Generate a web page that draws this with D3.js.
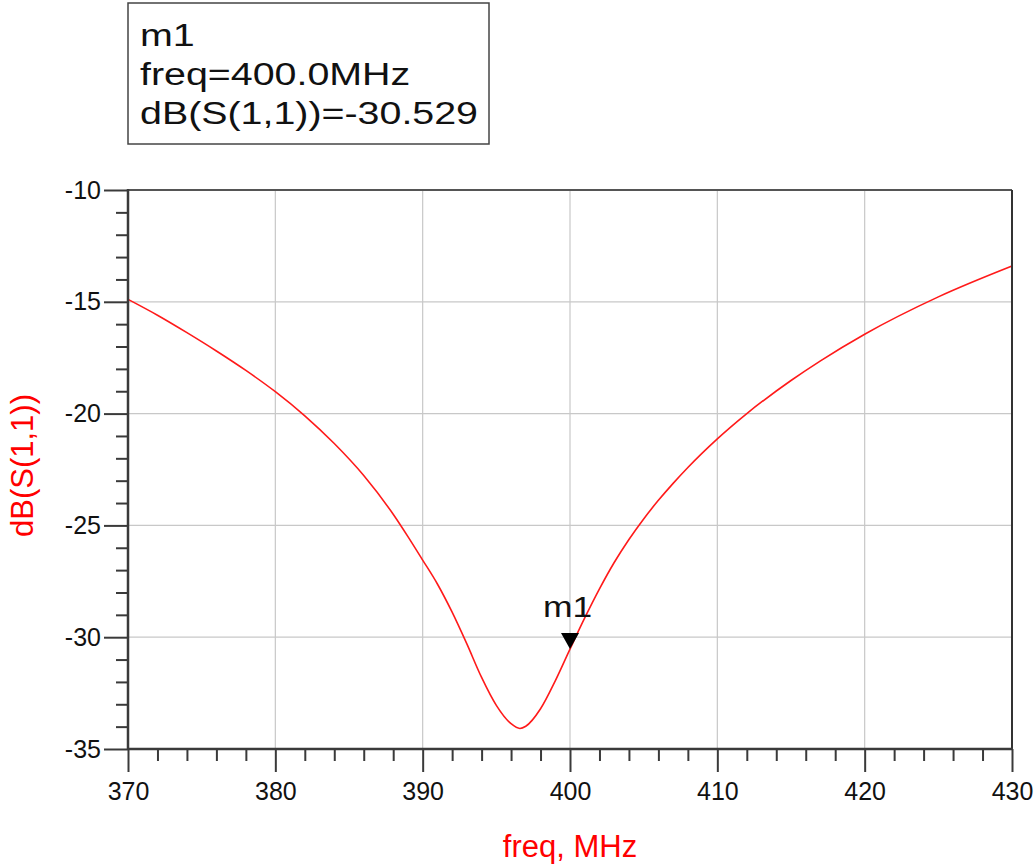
<!DOCTYPE html>
<html>
<head>
<meta charset="utf-8">
<script src="https://cdn.jsdelivr.net/npm/d3@7"></script>
<style>
  html, body { margin: 0; padding: 0; background: #fff; }
  svg { display: block; font-family: Arial, "Liberation Sans", sans-serif; }
</style>
</head>
<body>
<svg id="chart" width="1034" height="867"></svg>
<script>
// ---- data ----
const freqMHz = [370, 372, 374, 376, 378, 380, 382, 384, 386, 388, 389, 390, 391, 392, 393, 394, 395, 396, 396.6, 397, 398, 399, 400, 401, 402, 403, 404, 405, 406, 407, 408, 410, 412, 415, 417, 420, 425, 430];
const dbS11   = [-14.89, -15.6, -16.38, -17.2, -18.07, -19.02, -20.1, -21.34, -22.77, -24.5, -25.5, -26.55, -27.62, -28.88, -30.3, -31.8, -33.05, -33.87, -34.08, -33.98, -33.2, -31.95, -30.53, -29.14, -27.84, -26.66, -25.63, -24.71, -23.88, -23.12, -22.41, -21.13, -20.0, -18.52, -17.64, -16.45, -14.78, -13.4];
const xMajorTicks = [370, 380, 390, 400, 410, 420, 430];
const xMinorTicks = [372, 374, 376, 378, 382, 384, 386, 388, 392, 394, 396, 398, 402, 404, 406, 408, 412, 414, 416, 418, 422, 424, 426, 428];
const yMajorTicks = [-10, -15, -20, -25, -30, -35];
const yMinorTicks = [-11, -12, -13, -14, -16, -17, -18, -19, -21, -22, -23, -24, -26, -27, -28, -29, -31, -32, -33, -34];
const markerName = "m1";
const markerFreq = 400.0;
const markerValue = -30.529;
const markerLines = ["m1", "freq=400.0MHz", "dB(S(1,1))=-30.529"];
const xTitle = "freq, MHz";
const yTitle = "dB(S(1,1))";

// ---- layout ----
const L = 128, R = 1012, T = 190, B = 749;
const svg = d3.select("#chart");
const x = d3.scaleLinear().domain([370, 430]).range([L, R]);
const y = d3.scaleLinear().domain([-10, -35]).range([T, B]);
const axisColor = "#3a3a3a";

// grid
svg.append("g").selectAll("line").data(xMajorTicks.slice(1, -1)).join("line")
  .attr("x1", d => x(d)).attr("x2", d => x(d)).attr("y1", T).attr("y2", B)
  .attr("stroke", "#c8c8c8").attr("stroke-width", 1.2);
svg.append("g").selectAll("line").data(yMajorTicks.slice(1, -1)).join("line")
  .attr("y1", d => y(d)).attr("y2", d => y(d)).attr("x1", L).attr("x2", R)
  .attr("stroke", "#c8c8c8").attr("stroke-width", 1.2);

// curve
const line = d3.line().x((d, i) => x(freqMHz[i])).y(d => y(d)).curve(d3.curveMonotoneX);
svg.append("path").datum(dbS11).attr("d", line)
  .attr("fill", "none").attr("stroke", "#ff1a1a").attr("stroke-width", 1.6);

// frame top/right
svg.append("line").attr("x1", L).attr("x2", R).attr("y1", T).attr("y2", T).attr("stroke", "#555").attr("stroke-width", 2);
svg.append("line").attr("x1", R).attr("x2", R).attr("y1", T).attr("y2", B).attr("stroke", "#333").attr("stroke-width", 2);

function styleAxis(g) {
  g.select(".domain").remove();
  g.selectAll(".tick line").attr("stroke", axisColor).attr("stroke-width", 2);
  g.selectAll(".tick text").attr("fill", "#111").attr("font-size", 25);
}

// y axis
const gyMinor = svg.append("g").attr("transform", `translate(${L},0)`)
  .call(d3.axisLeft(y).tickValues(yMinorTicks).tickSize(12).tickFormat(""));
styleAxis(gyMinor);
const gy = svg.append("g").attr("transform", `translate(${L},0)`)
  .call(d3.axisLeft(y).tickValues(yMajorTicks).tickSize(24).tickPadding(3).tickFormat(d3.format("d")));
styleAxis(gy);
gy.selectAll(".tick text").text(d => String(d).replace("−", "-"));

// x axis
const gxMinor = svg.append("g").attr("transform", `translate(0,${B})`)
  .call(d3.axisBottom(x).tickValues(xMinorTicks).tickSize(12).tickFormat(""));
styleAxis(gxMinor);
const gx = svg.append("g").attr("transform", `translate(0,${B})`)
  .call(d3.axisBottom(x).tickValues(xMajorTicks).tickSize(23).tickPadding(10).tickFormat(d3.format("d")));
styleAxis(gx);

// spines left/bottom
svg.append("line").attr("x1", L).attr("x2", L).attr("y1", T - 1).attr("y2", B + 1).attr("stroke", axisColor).attr("stroke-width", 2.5);
svg.append("line").attr("x1", L).attr("x2", R + 1).attr("y1", B).attr("y2", B).attr("stroke", axisColor).attr("stroke-width", 2.5);

// axis titles
svg.append("text").attr("x", x(400)).attr("y", 857).attr("text-anchor", "middle")
  .attr("fill", "#ff0000").attr("font-size", 31).text(xTitle);
svg.append("text").attr("transform", `translate(33,${(T + B) / 2 - 4}) rotate(-90)`).attr("text-anchor", "middle")
  .attr("fill", "#ff0000").attr("font-size", 31).text(yTitle);

// marker
const mx = x(markerFreq), my = y(markerValue);
svg.append("path")
  .attr("d", `M${mx - 9},${my - 16} L${mx + 9},${my - 16} L${mx},${my} Z`)
  .attr("fill", "#000");
svg.append("text").attr("x", mx - 2).attr("y", my - 32).attr("text-anchor", "middle")
  .attr("font-size", 30).attr("fill", "#111")
  .attr("transform", `translate(${mx},0) scale(1.18,1) translate(${-mx},0)`)
  .text(markerName);

// marker readout box
svg.append("rect").attr("x", 128).attr("y", 3).attr("width", 361).attr("height", 141)
  .attr("fill", "#fff").attr("stroke", "#444").attr("stroke-width", 1.5);
const tg = svg.append("g").attr("transform", "translate(140,0) scale(1.27,1)");
tg.selectAll("text").data(markerLines).join("text")
  .attr("x", 0).attr("y", (d, i) => 46.5 + i * 39)
  .attr("font-size", 31).attr("fill", "#111").text(d => d);
</script>
</body>
</html>
